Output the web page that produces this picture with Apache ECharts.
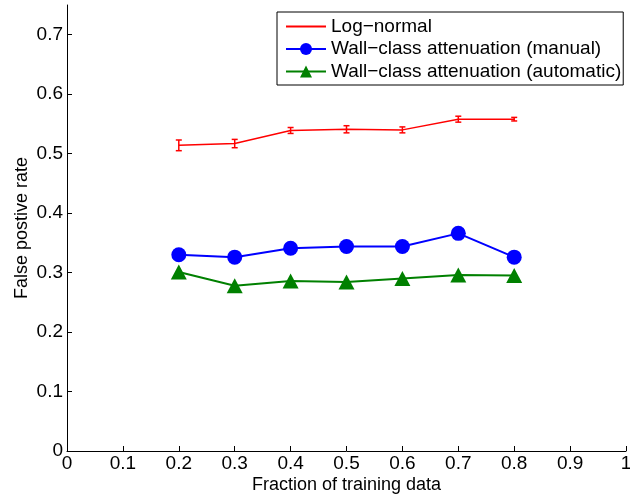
<!DOCTYPE html>
<html>
<head>
<meta charset="utf-8">
<script src="https://cdn.jsdelivr.net/npm/echarts@6/dist/echarts.min.js"></script>
<style>
html,body{margin:0;padding:0;background:#fff;}
#chart{width:630px;height:495px;}
</style>
</head>
<body>
<div id="chart"></div>
<script>
// Data
const fractions = [0.2, 0.3, 0.4, 0.5, 0.6, 0.7, 0.8];
const logNormal = [0.514, 0.517, 0.539, 0.541, 0.540, 0.558, 0.558];
const logNormalErr = [0.009, 0.007, 0.005, 0.006, 0.005, 0.005, 0.003];
const wallManual = [0.330, 0.326, 0.341, 0.344, 0.344, 0.366, 0.326];
const wallAutomatic = [0.301, 0.278, 0.286, 0.284, 0.290, 0.296, 0.295];
const yTicks = [0, 0.1, 0.2, 0.3, 0.4, 0.5, 0.6, 0.7];
const seriesNames = ['Log\u2212normal', 'Wall\u2212class attenuation (manual)', 'Wall\u2212class attenuation (automatic)'];

const FONT = 'Liberation Sans, Arial, Helvetica, sans-serif';
const chart = echarts.init(document.getElementById('chart'));

const pair = (vals) => fractions.map((f, i) => [f, vals[i]]);

chart.setOption({
  animation: false,
  backgroundColor: '#fff',
  textStyle: { fontFamily: FONT },
  grid: { left: 67, right: 4, top: 5, bottom: 44, containLabel: false, outerBoundsMode: 'none' },
  legend: {
    data: [
      { name: seriesNames[0], itemStyle: { opacity: 0 } },
      { name: seriesNames[1] },
      { name: seriesNames[2] }
    ],
    orient: 'vertical',
    left: 277,
    top: 12,
    padding: [5, 2, 4, 8],
    itemGap: 3.5,
    itemWidth: 40,
    itemHeight: 15,
    borderColor: '#000',
    borderWidth: 1,
    backgroundColor: '#fff',
    textStyle: { fontFamily: FONT, fontSize: 19, color: '#000' },
    selectedMode: false
  },
  xAxis: {
    type: 'value',
    min: 0, max: 1, interval: 0.1,
    name: 'Fraction of training data',
    nameLocation: 'middle',
    nameGap: 25,
    nameMoveOverlap: false,
    nameTextStyle: { fontFamily: FONT, fontSize: 18, color: '#000' },
    axisLine: { show: true, onZero: false, lineStyle: { color: '#000', width: 1 } },
    axisTick: { show: true, inside: true, length: 5, lineStyle: { color: '#000' } },
    axisLabel: { fontFamily: FONT, fontSize: 19, color: '#000', margin: 3 },
    splitLine: { show: false }
  },
  yAxis: {
    type: 'value',
    min: 0, max: 0.75,
    name: 'False postive rate',
    nameLocation: 'middle',
    nameGap: 36,
    nameMoveOverlap: false,
    nameTextStyle: { fontFamily: FONT, fontSize: 18, color: '#000' },
    axisLine: { show: true, onZero: false, lineStyle: { color: '#000', width: 1 } },
    axisTick: { show: true, inside: true, length: 5, lineStyle: { color: '#000' }, customValues: yTicks },
    axisLabel: { fontFamily: FONT, fontSize: 19, color: '#000', margin: 4, customValues: yTicks },
    splitLine: { show: false }
  },
  series: [
    {
      name: seriesNames[0],
      type: 'line',
      data: pair(logNormal),
      symbol: 'none',
      lineStyle: { color: '#ff0000', width: 1.5 },
      itemStyle: { color: '#ff0000' },
      z: 3
    },
    {
      name: 'errorbars',
      type: 'custom',
      data: fractions.map((f, i) => [f, logNormal[i], logNormalErr[i]]),
      z: 4,
      renderItem: function (params, api) {
        const x = api.value(0), y = api.value(1), e = api.value(2);
        const top = api.coord([x, y + e]);
        const bot = api.coord([x, y - e]);
        const hw = 3;
        const style = { stroke: '#ff0000', lineWidth: 1.5 };
        return {
          type: 'group',
          children: [
            { type: 'line', shape: { x1: top[0], y1: top[1], x2: bot[0], y2: bot[1] }, style: style },
            { type: 'line', shape: { x1: top[0] - hw, y1: top[1], x2: top[0] + hw, y2: top[1] }, style: style },
            { type: 'line', shape: { x1: bot[0] - hw, y1: bot[1], x2: bot[0] + hw, y2: bot[1] }, style: style }
          ]
        };
      }
    },
    {
      name: seriesNames[1],
      type: 'line',
      data: pair(wallManual),
      symbol: 'circle',
      symbolSize: 15,
      lineStyle: { color: '#0000ff', width: 2 },
      itemStyle: { color: '#0000ff' },
      z: 3
    },
    {
      name: seriesNames[2],
      type: 'line',
      data: pair(wallAutomatic),
      symbol: 'triangle',
      symbolSize: [16, 15],
      lineStyle: { color: '#008000', width: 2 },
      itemStyle: { color: '#008000' },
      z: 3
    }
  ]
});
</script>
</body>
</html>
